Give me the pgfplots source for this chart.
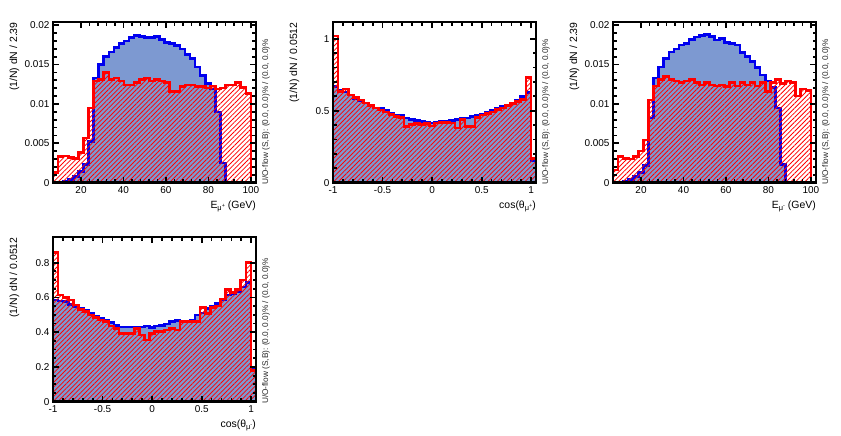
\documentclass[border=0pt]{standalone}
\usepackage{fontspec}
\setmainfont{Liberation Sans}
\usepackage{pgfplots}
\usepackage{pgfplotstable}
\pgfplotsset{compat=1.18}
\usetikzlibrary{patterns.meta}

\definecolor{sigfill}{HTML}{7D99D1}
\definecolor{sigline}{HTML}{0000EE}
\definecolor{bkgline}{HTML}{FF0000}

\newcommand{\musub}[1]{\raisebox{-2.6bp}{\fontsize{7.5}{8}\selectfont μ\raisebox{2.8bp}{\fontsize{5.5}{6}\selectfont #1}}}

% energy: bin edges, signal/background for mu+ (1) and mu- (3)
\pgfplotstableread{
x s1 b1 s3 b3
6.80 0.0000 0.0013 0.0000 0.0016
9.19 0.0001 0.0033 0.0001 0.0033
11.58 0.0002 0.0034 0.0002 0.0031
13.97 0.0004 0.0032 0.0004 0.0030
16.36 0.0008 0.0031 0.0008 0.0033
18.75 0.0014 0.0038 0.0013 0.0040
21.14 0.0023 0.0057 0.0022 0.0054
23.53 0.0052 0.0095 0.0082 0.0105
25.92 0.0133 0.0129 0.0133 0.0123
28.31 0.0150 0.0131 0.0147 0.0131
30.70 0.0160 0.0140 0.0158 0.0135
33.09 0.0166 0.0131 0.0166 0.0131
35.48 0.0172 0.0133 0.0170 0.0129
37.87 0.0177 0.0129 0.0175 0.0127
40.26 0.0180 0.0124 0.0177 0.0129
42.65 0.0184 0.0124 0.0182 0.0131
45.04 0.0187 0.0127 0.0185 0.0127
47.43 0.0186 0.0131 0.0187 0.0124
49.82 0.0184 0.0133 0.0188 0.0127
52.21 0.0184 0.0129 0.0186 0.0124
54.60 0.0186 0.0131 0.0181 0.0123
56.99 0.0182 0.0129 0.0183 0.0124
59.38 0.0178 0.0127 0.0178 0.0122
61.77 0.0177 0.0116 0.0177 0.0127
64.16 0.0174 0.0116 0.0175 0.0123
66.55 0.0170 0.0122 0.0165 0.0127
68.94 0.0163 0.0124 0.0160 0.0124
71.33 0.0158 0.0124 0.0154 0.0127
73.72 0.0147 0.0122 0.0146 0.0123
76.11 0.0136 0.0122 0.0137 0.0127
78.50 0.0126 0.0120 0.0129 0.0116
80.89 0.0119 0.0123 0.0121 0.0127
83.28 0.0090 0.0119 0.0095 0.0131
85.67 0.0025 0.0120 0.0023 0.0126
88.06 0 0.0124 0 0.0129
90.45 0 0.0124 0 0.0127
92.84 0 0.0127 0 0.0110
95.23 0 0.0121 0 0.0119
97.62 0 0.0113 0 0.0117
100.01 0 0 0 0
102.40 0 0 0 0
}\Etab

% cos(theta): bin edges, signal/background for mu+ (2) and mu- (4)
\pgfplotstableread{
x s2 b2 s4 b4
-1.0000 0.670 1.020 0.585 0.860
-0.9488 0.645 0.635 0.580 0.614
-0.8976 0.630 0.650 0.575 0.600
-0.8464 0.610 0.610 0.560 0.585
-0.7952 0.585 0.590 0.547 0.557
-0.7440 0.570 0.575 0.537 0.530
-0.6928 0.555 0.555 0.528 0.518
-0.6416 0.535 0.535 0.510 0.500
-0.5904 0.520 0.520 0.490 0.486
-0.5392 0.520 0.505 0.480 0.470
-0.4880 0.500 0.490 0.470 0.460
-0.4368 0.480 0.475 0.455 0.436
-0.3856 0.470 0.460 0.440 0.422
-0.3344 0.465 0.455 0.430 0.393
-0.2832 0.450 0.390 0.430 0.393
-0.2320 0.440 0.405 0.430 0.393
-0.1808 0.430 0.410 0.428 0.422
-0.1296 0.425 0.405 0.430 0.384
-0.0784 0.420 0.410 0.436 0.355
-0.0272 0.415 0.395 0.428 0.393
0.0240 0.420 0.415 0.436 0.403
0.0752 0.425 0.420 0.440 0.403
0.1264 0.425 0.420 0.447 0.413
0.1776 0.430 0.415 0.460 0.422
0.2288 0.440 0.380 0.466 0.413
0.2800 0.445 0.440 0.460 0.460
0.3312 0.450 0.390 0.460 0.460
0.3824 0.460 0.390 0.470 0.460
0.4336 0.465 0.455 0.500 0.460
0.4848 0.475 0.470 0.510 0.543
0.5360 0.490 0.480 0.537 0.509
0.5872 0.500 0.490 0.550 0.543
0.6384 0.515 0.510 0.566 0.550
0.6896 0.530 0.520 0.585 0.590
0.7408 0.540 0.535 0.614 0.647
0.7920 0.555 0.550 0.624 0.628
0.8432 0.575 0.565 0.633 0.647
0.8944 0.600 0.580 0.660 0.700
0.9456 0.625 0.730 0.685 0.800
0.9968 0.150 0.170 0.190 0.180
1.0480 0.150 0.170 0.190 0.180
}\Ctab

\pgfplotsset{
  tmva/.style={
    scale only axis, axis on top, anchor=south west,
    clip mode=individual,
    width=203bp,
    ymin=0,
    axis line style={line width=2.4bp},
    tick style={black, line width=1.8bp},
    major tick length=6bp, minor tick length=3.5bp,
    tick label style={font=\fontsize{10}{12}\selectfont},
    label style={font=\fontsize{10.5}{12}\selectfont},
    /pgf/number format/assume math mode=true,
    scaled x ticks=false, scaled y ticks=false,
    yticklabel style={/pgf/number format/fixed, /pgf/number format/precision=3},
    xticklabel style={/pgf/number format/fixed, /pgf/number format/precision=2},
    xlabel style={at={(axis description cs:1,0)}, anchor=base east, yshift=-25.5bp, inner sep=0pt},
    ylabel style={at={(axis description cs:-0.19,1)}, anchor=east, inner sep=0pt},
  },
  sig/.style={const plot, fill=sigfill, draw=sigline, line width=2.6bp},
  bkg/.style={const plot, draw=bkgline, line width=2.6bp,
    pattern={Lines[angle=45,distance=3.3bp,line width=0.8bp]}, pattern color=bkgline},
}
\newcommand{\uoflow}{\node[rotate=90, anchor=west, inner sep=0pt, text=black!85,
  font=\fontsize{8.3}{9}\selectfont] at (rel axis cs:1.049,-0.014)
  {U/O-flow (S,B): (0.0, 0.0)\% / (0.0, 0.0)\%};}

\begin{document}
\begin{tikzpicture}
\useasboundingbox (0,0) rectangle (841bp,436bp);

\begin{axis}[tmva, at={(53bp,253.3bp)}, height=160.5bp,
  xmin=6.8, xmax=102.4, ymax=0.02038,
  xtick={20,40,60,80,100}, minor x tick num=4,
  ytick={0,0.005,0.01,0.015,0.02}, minor y tick num=4,
  xlabel={E\musub{+} (GeV)}, ylabel={(1/N) dN / 2.39}]
\addplot[sig] table[x=x, y=s1] {\Etab} \closedcycle;
\addplot[bkg] table[x=x, y=b1] {\Etab} \closedcycle;
\uoflow
\end{axis}

\begin{axis}[tmva, at={(333bp,253.3bp)}, height=160.5bp,
  xmin=-1, xmax=1.048, ymax=1.115,
  xtick={-1,-0.5,0,0.5,1}, minor x tick num=4,
  ytick={0,0.5,1}, minor y tick num=4,
  xlabel={cos(θ\musub{+})}, ylabel={(1/N) dN / 0.0512}]
\addplot[sig] table[x=x, y=s2] {\Ctab} \closedcycle;
\addplot[bkg] table[x=x, y=b2] {\Ctab} \closedcycle;
\uoflow
\end{axis}

\begin{axis}[tmva, at={(613bp,253.3bp)}, height=160.5bp,
  xmin=6.8, xmax=102.4, ymax=0.02038,
  xtick={20,40,60,80,100}, minor x tick num=4,
  ytick={0,0.005,0.01,0.015,0.02}, minor y tick num=4,
  xlabel={E\musub{-} (GeV)}, ylabel={(1/N) dN / 2.39}]
\addplot[sig] table[x=x, y=s3] {\Etab} \closedcycle;
\addplot[bkg] table[x=x, y=b3] {\Etab} \closedcycle;
\uoflow
\end{axis}

\begin{axis}[tmva, at={(53bp,34.3bp)}, height=164.4bp,
  xmin=-1, xmax=1.048, ymax=0.946,
  xtick={-1,-0.5,0,0.5,1}, minor x tick num=4,
  ytick={0,0.2,0.4,0.6,0.8}, minor y tick num=3,
  xlabel={cos(θ\musub{-})}, ylabel={(1/N) dN / 0.0512}]
\addplot[sig] table[x=x, y=s4] {\Ctab} \closedcycle;
\addplot[bkg] table[x=x, y=b4] {\Ctab} \closedcycle;
\uoflow
\end{axis}
\end{tikzpicture}
\end{document}
